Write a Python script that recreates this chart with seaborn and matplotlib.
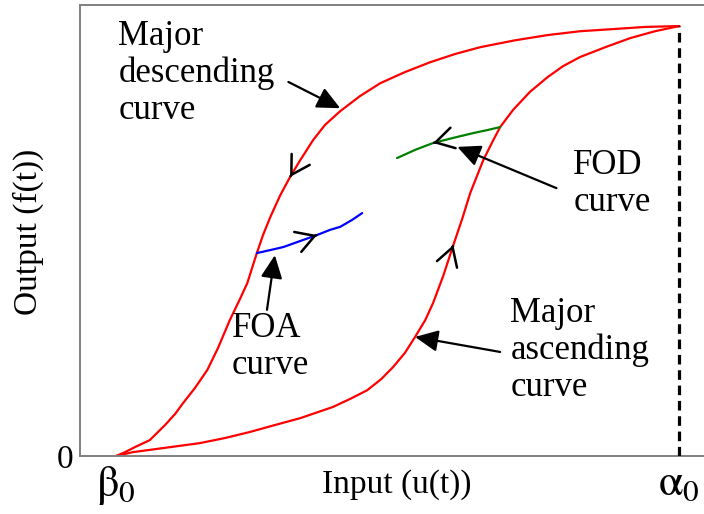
import numpy as np
import pandas as pd
import matplotlib
matplotlib.use("Agg")
import matplotlib.pyplot as plt
import seaborn as sns

# ---- data (normalised: beta0 -> 0, alpha0 -> 1 on input; 0..1 on output) ----
desc_u = [0.000, 0.016, 0.034, 0.060, 0.087, 0.105, 0.119, 0.140, 0.162, 0.181,
          0.202, 0.220, 0.233, 0.250, 0.261, 0.274, 0.291, 0.309, 0.327, 0.350,
          0.371, 0.398, 0.433, 0.469, 0.513, 0.558, 0.602, 0.647, 0.709, 0.766,
          0.824, 0.883, 0.940, 1.000]
desc_f = [0.000, 0.009, 0.021, 0.037, 0.072, 0.098, 0.123, 0.158, 0.200, 0.251,
          0.316, 0.365, 0.402, 0.472, 0.514, 0.556, 0.605, 0.649, 0.688, 0.735,
          0.770, 0.802, 0.837, 0.867, 0.893, 0.916, 0.935, 0.951, 0.967, 0.979,
          0.988, 0.993, 0.998, 1.000]

asc_u = [0.000, 0.030, 0.087, 0.149, 0.194, 0.238, 0.282, 0.327, 0.385, 0.416,
         0.446, 0.471, 0.492, 0.513, 0.531, 0.549, 0.563, 0.581, 0.599, 0.615,
         0.629, 0.652, 0.668, 0.682, 0.705, 0.735, 0.766, 0.794, 0.824, 0.869,
         0.913, 0.957, 1.000]
asc_f = [0.000, 0.009, 0.019, 0.030, 0.042, 0.056, 0.072, 0.088, 0.114, 0.133,
         0.153, 0.179, 0.207, 0.240, 0.277, 0.316, 0.356, 0.419, 0.491, 0.553,
         0.612, 0.688, 0.730, 0.765, 0.805, 0.847, 0.881, 0.907, 0.928, 0.951,
         0.972, 0.988, 1.000]

foa_u = [0.250, 0.274, 0.297, 0.327, 0.357, 0.380, 0.398, 0.419, 0.437]
foa_f = [0.472, 0.479, 0.486, 0.500, 0.514, 0.526, 0.533, 0.549, 0.565]

fod_u = [0.499, 0.531, 0.563, 0.599, 0.634, 0.659, 0.682]
fod_f = [0.693, 0.712, 0.728, 0.740, 0.751, 0.758, 0.765]

xtick_vals = [0.0, 1.0]
xtick_labels = [r"$\mathrm{\beta}_\mathrm{0}$", r"$\mathrm{\alpha}_\mathrm{0}$"]
ytick_vals = [0.0]
ytick_labels = ["0"]

curves = pd.concat([
    pd.DataFrame({"u": desc_u, "f": desc_f, "curve": "desc"}),
    pd.DataFrame({"u": asc_u, "f": asc_f, "curve": "asc"}),
    pd.DataFrame({"u": foa_u, "f": foa_f, "curve": "foa"}),
    pd.DataFrame({"u": fod_u, "f": fod_f, "curve": "fod"}),
], ignore_index=True)
palette = {"desc": "#ff0000", "asc": "#ff0000", "foa": "#0000ff", "fod": "#008000"}

sns.set_style("white")
plt.rcParams["font.family"] = ["Liberation Serif", "DejaVu Serif"]
plt.rcParams["mathtext.fontset"] = "stix"
plt.rcParams["text.color"] = "black"
plt.rcParams["axes.labelcolor"] = "black"
plt.rcParams["xtick.color"] = "black"
plt.rcParams["ytick.color"] = "black"

fig = plt.figure(figsize=(7.04, 5.14), dpi=100)
ax = fig.add_axes([80 / 704, 58 / 514, 624 / 704, 451 / 514])

sns.lineplot(data=curves, x="u", y="f", hue="curve", units="curve",
             estimator=None, sort=False, palette=palette, linewidth=1.6,
             legend=False, ax=ax)

# dashed vertical at alpha0
ax.plot([xtick_vals[1], xtick_vals[1]], [0, asc_f[-1]], color="black",
        lw=2.3, ls=(0, (3, 1.8)), zorder=3)

ax.set_xlim(-0.064, 1.044)
ax.set_ylim(0, 1.049)

ax.set_xticks(xtick_vals)
ax.set_xticklabels(xtick_labels, fontsize=32)
ax.set_yticks(ytick_vals)
ax.set_yticklabels(ytick_labels, fontsize=24)
ax.tick_params(length=0, pad=5)
ax.tick_params(axis="x", pad=6)

for s in ["left", "bottom", "top"]:
    ax.spines[s].set_color("#808080")
    ax.spines[s].set_linewidth(1.4)
ax.spines["right"].set_visible(False)

ax.set_xlabel("Input (u(t))", fontsize=24)
ax.xaxis.set_label_coords(0.508, -0.03)
ax.set_ylabel("Output (f(t))", fontsize=24)
ax.yaxis.set_label_coords(-0.057, 0.497)


def chevron(xs, ys, i, j):
    """open arrow head at point i of a curve, pointing away from point j"""
    x0, y0 = xs[i], ys[i]
    x1 = x0 + 0.05 * (xs[j] - x0)
    y1 = y0 + 0.05 * (ys[j] - y0)
    ax.annotate("", xy=(x0, y0), xytext=(x1, y1),
                arrowprops=dict(arrowstyle="->,head_length=0.65,head_width=0.38",
                                color="black", lw=1.8, mutation_scale=20,
                                shrinkA=0, shrinkB=0), zorder=4)


chevron(desc_u, desc_f, 17, 18)
chevron(foa_u, foa_f, 4, 3)
chevron(fod_u, fod_f, 2, 3)
chevron(asc_u, asc_f, 18, 17)

FS = 25
arrow_kw = dict(arrowstyle="-|>,head_length=0.7,head_width=0.33", color="black",
                lw=1.6, mutation_scale=20, shrinkA=0, shrinkB=0)

ax.text(0.004, 1.014, "Major\ndescending\ncurve", fontsize=FS, va="top", ha="left",
        linespacing=1.15)
ax.annotate("", xy=(0.398, 0.809), xytext=(0.306, 0.870), arrowprops=arrow_kw)

ax.text(0.812, 0.714, "FOD\ncurve", fontsize=FS, va="top", ha="left", linespacing=1.15)
ax.annotate("", xy=(0.606, 0.719), xytext=(0.782, 0.623), arrowprops=arrow_kw)

ax.text(0.206, 0.335, "FOA\ncurve", fontsize=FS, va="top", ha="left", linespacing=1.15)
ax.annotate("", xy=(0.282, 0.467), xytext=(0.268, 0.340), arrowprops=arrow_kw)

ax.text(0.700, 0.370, "Major\nascending\ncurve", fontsize=FS, va="top", ha="left",
        linespacing=1.15)
ax.annotate("", xy=(0.531, 0.277), xytext=(0.682, 0.242), arrowprops=arrow_kw)

fig.savefig("out.png", dpi=100)
